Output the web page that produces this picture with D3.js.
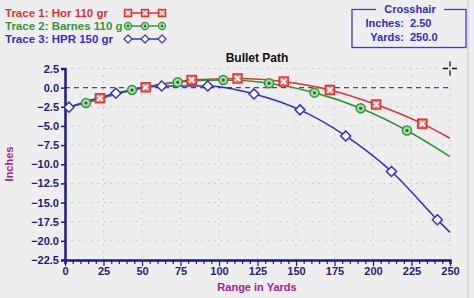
<!DOCTYPE html>
<html><head><meta charset="utf-8">
<script src="https://cdn.jsdelivr.net/npm/d3@7"></script>
<style>
html,body{margin:0;padding:0;background:#eeeeee;}
svg{display:block;font-family:"Liberation Sans",Arial,sans-serif;font-weight:bold;}
</style></head>
<body>
<svg id="chart" width="474" height="298"></svg>
<script>
// ---- data ----
const xTicks = [0,25,50,75,100,125,150,175,200,225,250];
const yTicks = [2.5,0,-2.5,-5,-7.5,-10,-12.5,-15,-17.5,-20,-22.5];
const horYards   = [2.6, 22.7, 52.4, 82.3, 112, 142, 172, 202, 232, 250];
const horInches  = [-2.55, -1.38, 0.05, 1.0, 1.2, 0.8, -0.3, -2.2, -4.7, -6.6];
const barYards   = [2.6, 13.6, 43.5, 73.2, 102.8, 132.5, 162, 192, 222, 250];
const barInches  = [-2.55, -2.0, -0.3, 0.7, 1.0, 0.57, -0.65, -2.7, -5.6, -9.0];
const hprYards   = [2.6, 33, 62.8, 92.7, 122.7, 152.6, 182.3, 212, 241.8, 250];
const hprInches  = [-2.55, -0.73, 0.22, 0.22, -0.82, -2.9, -6.3, -10.95, -17.25, -18.9];
const traceNames = ["Trace 1:  Hor 110 gr", "Trace 2:  Barnes 110 g", "Trace 3:  HPR 150 gr"];
const crossInches = 2.50, crossYards = 250.0;

const svg = d3.select("#chart");
const navy = "#1c1c86", purple = "#a3228f";
const colors = ["#e8302e", "#2e9a34", "#2f2fe0"];
const x = d3.scaleLinear().domain([0,250]).range([65,450]);
const y = d3.scaleLinear().domain([-22.5,2.5]).range([260,68.5]);

// grid
const g = svg.append("g");
g.selectAll(".hg").data(yTicks.filter(v=>v!==0 && v!==-22.5)).join("line")
  .attr("x1",x(0)).attr("x2",x(250)).attr("y1",d=>y(d)).attr("y2",d=>y(d))
  .attr("stroke","#c4c4c4").attr("stroke-width",1).attr("stroke-dasharray","1.5,5");
g.selectAll(".vg").data(xTicks.filter(v=>v>0)).join("line")
  .attr("x1",d=>x(d)).attr("x2",d=>x(d)).attr("y1",y(2.5)).attr("y2",y(-22.5))
  .attr("stroke","#c4c4c4").attr("stroke-width",1).attr("stroke-dasharray","1.5,5");
// zero dashed line
svg.append("line").attr("x1",x(0)).attr("x2",x(250)).attr("y1",y(0)).attr("y2",y(0))
  .attr("stroke","#4a4a8a").attr("stroke-width",1.2).attr("stroke-dasharray","5,4");

// axes
const yAxis = d3.axisLeft(y).tickValues(yTicks).tickFormat(d3.format(".1f")).tickSize(4).tickPadding(2);
const ya = svg.append("g").attr("transform","translate(65,0)").call(yAxis);
ya.select(".domain").attr("stroke",navy).attr("stroke-width",2.5);
ya.selectAll(".tick line").attr("stroke",navy).attr("stroke-width",1.5);
ya.selectAll("text").attr("fill",navy).attr("font-size","11px").attr("font-weight","bold").attr("font-family","Liberation Sans, Arial, sans-serif");

const xa = svg.append("g").attr("transform","translate(0,260)")
  .call(d3.axisBottom(x).tickValues(d3.range(0,251,5)).tickFormat(d=>d%25===0?d:"").tickSize(4).tickPadding(3));
xa.select(".domain").attr("stroke",navy).attr("stroke-width",2.5);
xa.selectAll(".tick line").attr("stroke",navy).attr("stroke-width",1.2)
  .attr("y2",d=>d%25===0?6:4);
xa.selectAll("text").attr("fill",navy).attr("font-size","11px").attr("font-weight","bold").attr("font-family","Liberation Sans, Arial, sans-serif");

// labels
svg.append("text").attr("x",257).attr("y",62).attr("text-anchor","middle")
  .attr("font-size","12px").attr("fill","#111").text("Bullet Path");
svg.append("text").attr("x",257).attr("y",291).attr("text-anchor","middle")
  .attr("font-size","11px").attr("fill",purple).text("Range in Yards");
svg.append("text").attr("transform","translate(13,164) rotate(-90)").attr("text-anchor","middle")
  .attr("font-size","11px").attr("fill",purple).text("Inches");

// series
const series = [
  {yd:horYards, v:horInches, c:colors[0], m:"sq", first:1},
  {yd:barYards, v:barInches, c:colors[1], m:"ci", first:1},
  {yd:hprYards, v:hprInches, c:colors[2], m:"di", first:0}
];
const line = d3.line().curve(d3.curveMonotoneX);
function marker(sel, type, c){
  if(type==="sq"){
    sel.append("rect").attr("x",-4.5).attr("y",-4.5).attr("width",9).attr("height",9)
      .attr("fill","#ef7676").attr("stroke",c).attr("stroke-width",1.5);
    sel.append("path").attr("d","M-2.6,-2.6L2.6,2.6M-2.6,2.6L2.6,-2.6").attr("stroke","#fff").attr("stroke-width",1.8);
  } else if(type==="ci"){
    sel.append("circle").attr("r",4.5).attr("fill","#a6d8a6").attr("stroke",c).attr("stroke-width",1.5);
    sel.append("circle").attr("r",1.5).attr("fill","#1e6a22");
  } else {
    sel.append("path").attr("d","M0,-5L5,0L0,5L-5,0Z").attr("fill","#fff").attr("stroke",c).attr("stroke-width",1.5);
  }
}
series.forEach(s=>{
  const pts = s.yd.map((d,i)=>[x(d), y(s.v[i])]);
  svg.append("path").attr("d",line(pts)).attr("fill","none").attr("stroke",s.c).attr("stroke-width",1.6);
});
series.forEach(s=>{
  s.yd.forEach((d,i)=>{
    if(i < s.first || i === s.yd.length-1) return;
    marker(svg.append("g").attr("transform",`translate(${x(d)},${y(s.v[i])})`), s.m, s.c);
  });
});

// legend
traceNames.forEach((t,i)=>{
  const yy = 13 + i*13;
  svg.append("text").attr("x",5).attr("y",yy+4).attr("font-size","11.5px").attr("fill",colors[i]).text(t);
  svg.append("line").attr("x1",128).attr("x2",162).attr("y1",yy).attr("y2",yy).attr("stroke",colors[i]).attr("stroke-width",1.4);
  [128,145,162].forEach(px=>{
    const gg = svg.append("g").attr("transform",`translate(${px},${yy}) scale(0.8)`);
    marker(gg, series[i].m, colors[i]);
  });
});

// crosshair box
const bx = svg.append("g");
bx.append("rect").attr("x",352).attr("y",9.5).attr("width",114).attr("height",38)
  .attr("fill","none").attr("stroke","#3a3ae0").attr("stroke-width",1.3);
bx.append("rect").attr("x",376).attr("y",4).attr("width",68).attr("height",10).attr("fill","#eeeeee");
bx.append("text").attr("x",410).attr("y",13).attr("text-anchor","middle").attr("font-size","11px").attr("fill","#2c2ce0").text("Crosshair");
bx.append("text").attr("x",404).attr("y",27).attr("text-anchor","end").attr("font-size","11px").attr("fill","#2c2ce0").text("Inches:");
bx.append("text").attr("x",410).attr("y",27).attr("font-size","11px").attr("fill","#2c2ce0").text(d3.format(".2f")(crossInches));
bx.append("text").attr("x",404).attr("y",41).attr("text-anchor","end").attr("font-size","11px").attr("fill","#2c2ce0").text("Yards:");
bx.append("text").attr("x",410).attr("y",41).attr("font-size","11px").attr("fill","#2c2ce0").text(d3.format(".1f")(crossYards));

// crosshair cursor
const cx = x(crossYards), cy = y(crossInches);
svg.append("path").attr("d",`M${cx-7},${cy}H${cx-2}M${cx+2},${cy}H${cx+7}M${cx},${cy-7}V${cy-2}M${cx},${cy+2}V${cy+7}`)
  .attr("stroke","#111").attr("stroke-width",1.3);

// right border line
svg.append("line").attr("x1",468).attr("x2",468).attr("y1",0).attr("y2",298).attr("stroke","#c8c8c8");
</script>
</body></html>
